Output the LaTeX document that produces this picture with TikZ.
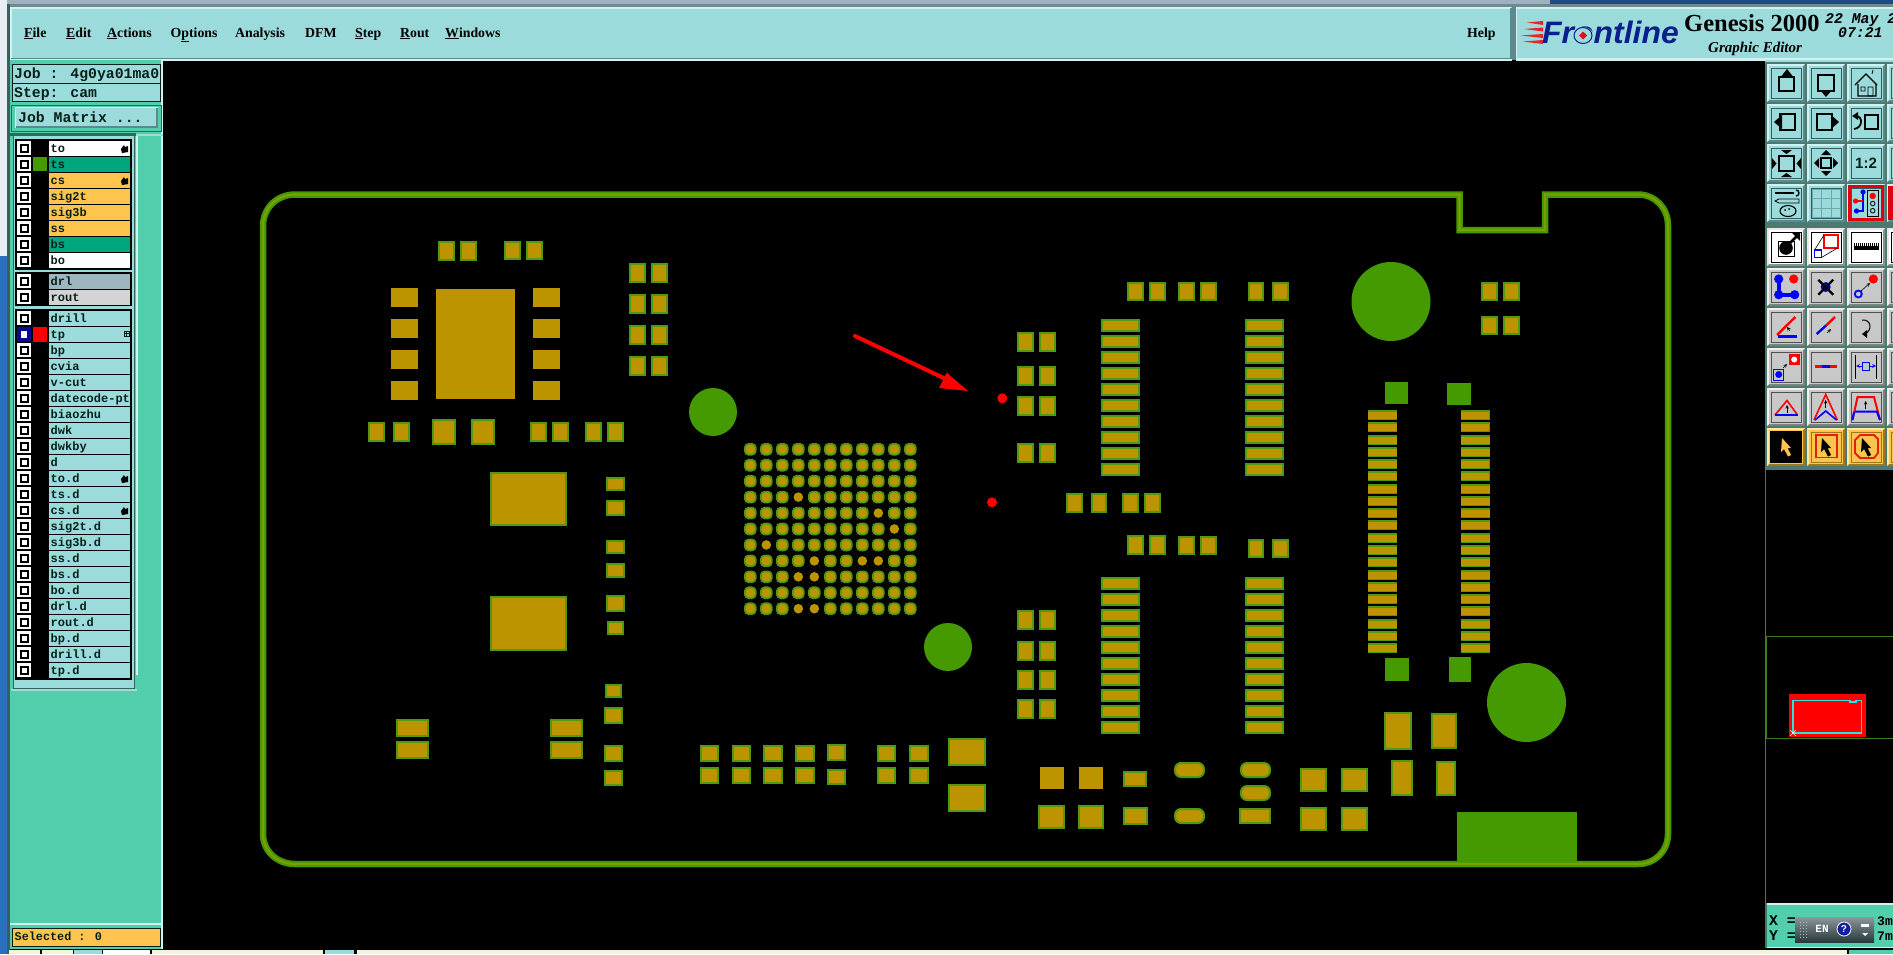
\documentclass[tikz,border=0pt]{standalone}
\usepackage{fontspec}
\setmainfont{Liberation Serif}
\newfontfamily\monof{Liberation Mono}
\newfontfamily\sansf{Liberation Sans}
\definecolor{gold}{HTML}{BC9400}
\definecolor{padgreen}{HTML}{4F9A10}
\definecolor{leaf}{HTML}{449A00}
\definecolor{olive}{HTML}{7F9F00}
\definecolor{aqua}{HTML}{9CDBDB}
\definecolor{aqlight}{HTML}{D2F2F2}
\definecolor{aqdark}{HTML}{5A8A8A}
\definecolor{sea}{HTML}{52CEAC}
\definecolor{seadark}{HTML}{2F6A58}
\definecolor{jade}{HTML}{00A67E}
\definecolor{amber}{HTML}{FFC44E}
\definecolor{slate}{HTML}{9DB6C0}
\definecolor{silver}{HTML}{D4D4D4}
\definecolor{btngrey}{HTML}{C8C8C8}
\definecolor{logoblue}{HTML}{0A1E8C}
\definecolor{ink}{HTML}{062018}
\definecolor{winA}{HTML}{9FB0C0}
\definecolor{winB}{HTML}{1F4A88}
\definecolor{winC}{HTML}{6E8C8E}
\definecolor{winD}{HTML}{E8EEF4}
\definecolor{winE}{HTML}{2A6EC0}
\definecolor{winF}{HTML}{3E5E5E}
\definecolor{streak}{HTML}{E8242A}
\definecolor{logored}{HTML}{E01020}
\definecolor{cream}{HTML}{F4F4DC}
\definecolor{tbbg}{HTML}{4A7A70}
\definecolor{tbframe}{HTML}{2F6060}
\definecolor{grL}{HTML}{F0F0F0}
\definecolor{grD}{HTML}{808080}
\definecolor{grF}{HTML}{505050}
\definecolor{whL}{HTML}{E8E8E8}
\definecolor{whD}{HTML}{909090}
\definecolor{orL}{HTML}{FFE8A0}
\definecolor{orD}{HTML}{A07818}
\definecolor{redb}{HTML}{E00010}
\definecolor{gridc}{HTML}{6FA8A8}
\definecolor{redc}{HTML}{E02010}
\definecolor{ovb}{HTML}{3E7A60}
\definecolor{ovg}{HTML}{3C7A18}
\definecolor{cy}{HTML}{30E0E0}
\definecolor{wdA}{HTML}{8A989C}
\definecolor{wdB}{HTML}{2A383C}
\definecolor{wdD}{HTML}{B0BCC0}
\definecolor{qb}{HTML}{1020A0}
\definecolor{tpb}{HTML}{0A0A90}
\definecolor{tipr}{HTML}{E05010}
\tikzset{
  x=1pt,y=-1pt,
  padst/.style={draw=padgreen,line width=2pt,fill=gold},
  barest/.style={fill=gold},
  solidst/.style={fill=leaf},
  txt/.style={inner sep=0pt,anchor=base west,text=ink},
  lyrtxt/.style={txt,font=\monof\bfseries\fontsize{12}{14}\selectfont},
  sidetxt/.style={txt,font=\monof\bfseries\fontsize{14.8}{17}\selectfont},
  menutxt/.style={txt,text=black,font=\bfseries\fontsize{13.8}{16}\selectfont},
  icon/.style={line width=1.8pt,draw=black},
  thin icon/.style={line width=0.8pt,draw=black},
}
\newcommand\ppad[4]{\path[padst] (#1+1,#2+1) rectangle (#3-1,#4-1);}
\newcommand\pbare[4]{\path[barest] (#1,#2) rectangle (#3,#4);}
\newcommand\psolid[4]{\path[solidst] (#1,#2) rectangle (#3,#4);}
\newcommand\povl[4]{\path[padst,rounded corners=6pt] (#1+1,#2+1) rectangle (#3-1,#4-1);}
\newcommand\pbar[2]{\fill[padgreen] (#1,#2) rectangle (#1+29,#2+10);\fill[gold] (#1,#2+2) rectangle (#1+29,#2+9);}
\newcommand\uln[1]{\underline{#1}}
% button: x y face light dark frame
\newcommand\btn[6]{%
  \fill[#5] (#1,#2) rectangle (#1+38,#2+38);
  \fill[#4] (#1,#2) -- (#1+38,#2) -- (#1+36,#2+2) -- (#1+2,#2+2) -- (#1+2,#2+36) -- (#1,#2+38) -- cycle;
  \fill[#3] (#1+2,#2+2) rectangle (#1+36,#2+36);
  \draw[#6,line width=0.8pt] (#1+4,#2+4) rectangle (#1+34,#2+34);}
\newcommand\curs[1]{\fill[#1] (15,10) -- (24,20) -- (20.5,20) -- (24,27) -- (21,28.5) -- (17,21) -- (14,24) -- cycle;}
% checkbox
\newcommand\chk[1]{%
  \fill[white] (17,#1) rectangle (31,#1+14);
  \fill[black] (19.5,#1+2.5) rectangle (28.5,#1+11.5);
  \fill[white] (21.5,#1+4.5) rectangle (26.5,#1+9.5);}
\newcommand\hand[1]{\fill[black] (121,#1+8) -- (124,#1+4) -- (125,#1+6) -- (128,#1+5) -- (128,#1+11) -- (122,#1+12) -- cycle;}
\begin{document}
\begin{tikzpicture}
\useasboundingbox (0,0) rectangle (1893,954);
\fill[black] (0,0) rectangle (1893,954);
%% window edges
\fill[winA] (0,0) rectangle (1550,4);
\fill[winB] (1550,0) rectangle (1893,4);
\fill[winC] (0,4) rectangle (1893,7);
\fill[winD] (0,0) rectangle (7,256);
\fill[winE] (0,256) rectangle (7,954);
\fill[winF] (7,4) rectangle (10,954);
%% menu bar
\fill[aqua] (10,7) rectangle (1512,59);
\draw[aqlight,line width=1.5pt] (11,59) -- (11,8) -- (1511,8);
\draw[aqdark,line width=2pt] (11,58.5) -- (1511,58.5) -- (1511,8);
\fill[aqlight] (10,59) rectangle (1512,60.5);
\fill[aqua] (1516,7) rectangle (1893,60);
\draw[aqlight,line width=1.5pt] (1516.5,60) -- (1516.5,8) -- (1893,8);
\fill[aqlight] (1516,58) rectangle (1893,60.5);
\fill[aqdark] (1512,7) rectangle (1516,60);
\node[menutxt] (mfile) at (24,37) {\uln{F}ile};
\node[menutxt] (medit) at (66,37) {\uln{E}dit};
\node[menutxt] (mact) at (107,37) {\uln{A}ctions};
\node[menutxt] (mopt) at (170.5,37) {O\uln{p}tions};
\node[menutxt] (mana) at (235,37) {Analysis};
\node[menutxt] (mdfm) at (305,37) {DFM};
\node[menutxt] (mstep) at (355,37) {\uln{S}tep};
\node[menutxt] (mrout) at (400,37) {\uln{R}out};
\node[menutxt] (mwin) at (445,37) {\uln{W}indows};
\node[menutxt] (mhelp) at (1467,37) {Help};
%% logo
\foreach \yy/\xs in {22/1527,28.5/1524,35/1521,41/1523}{
  \fill[streak] (\xs,\yy+0.5) -- (1543,\yy-1) -- (1543,\yy+3) -- cycle;}
\node[txt,text=logoblue,font=\sansf\bfseries\itshape\fontsize{31}{33}\selectfont] (front) at (1542,43.5) {\scalebox{1.03}[1]{Frontline}};
\fill[aqua] (1583,35.5) ellipse [x radius=10.5,y radius=8.5];
\draw[logoblue,line width=1pt] (1583,35.5) ellipse [x radius=9,y radius=8];
\fill[logored] (1583,31.5) -- (1587,35.5) -- (1583,39.5) -- (1579,35.5) -- cycle;
\node[txt,text=black,font=\bfseries\fontsize{24.5}{26}\selectfont] (gen) at (1684,31) {Genesis 2000};
\node[txt,text=black,font=\bfseries\itshape\fontsize{15}{17}\selectfont] (ged) at (1708,52) {Graphic Editor};
\node[txt,text=black,font=\monof\bfseries\itshape\fontsize{14.8}{16}\selectfont] (dt1) at (1825,23) {22 May 2};
\node[txt,text=black,font=\monof\bfseries\itshape\fontsize{14.8}{16}\selectfont] (dt2) at (1838,37) {07:21 :};
%% left panel
\fill[sea] (10,60) rectangle (163,949);
\fill[aqlight] (161,60) rectangle (163,949);
\fill[aqua] (12,64) rectangle (160,83);
\draw[ink,line width=1pt] (12,64.5) rectangle (160.5,83);
\fill[aqua] (12,84) rectangle (160,101);
\draw[ink,line width=1pt] (12,83.5) rectangle (160.5,101.5);
\node[sidetxt] (job) at (14,78) {Job : 4g0ya01ma0};
\node[sidetxt] (stp) at (14,97) {Step: cam};
\draw[seadark,line width=1pt] (11.5,105) rectangle (161,131);
\fill[aqlight] (15,107) rectangle (157.5,127.5);
\fill[aqdark] (16,108) rectangle (157.5,127.5);
\fill[aqua] (16,108) rectangle (156,126);
\node[sidetxt] (jm) at (18,122) {Job Matrix ...};
\fill[seadark] (10,133) rectangle (136,136);
\fill[aqua] (136,134) rectangle (163,136);
\fill[aqlight] (136,136) rectangle (137.5,675);
\fill[seadark] (13,135) rectangle (135,689);
\fill[aqua] (14,136) rectangle (134,688);
\fill[black] (15,138.5) rectangle (132,269.5);
\fill[aqua] (15,269.5) rectangle (132,272);
\fill[black] (15,272) rectangle (132,306);
\fill[aqua] (15,306) rectangle (132,309);
\fill[black] (15,309) rectangle (132,680);
\fill[aqua] (11,689) rectangle (137,691);
% first groups
\foreach \lbl/\yy/\col in {to/141/white,ts/157/jade,cs/173/amber,sig2t/189/amber,sig3b/205/amber,ss/221/amber,bs/237/jade,bo/253/white,drl/274/slate,rout/290/silver}{
  \fill[\col] (49,\yy) rectangle (130,\yy+14.5);
  \chk{\yy}
  \node[lyrtxt] (lyr\yy) at (50.5,\yy+11) {\lbl};
}
\fill[leaf] (33,157) rectangle (47,171);
\hand{141}\hand{173}
% third group
\foreach \lbl [count=\n from 0] in {drill,tp,bp,cvia,v-cut,datecode-pt,biaozhu,dwk,dwkby,d,to.d,ts.d,cs.d,sig2t.d,sig3b.d,ss.d,bs.d,bo.d,drl.d,rout.d,bp.d,drill.d,tp.d}{
  \fill[aqua] (49,311+16*\n) rectangle (130,325.5+16*\n);
  \chk{311+16*\n}
  \node[lyrtxt] (lyrb\n) at (50.5,322+16*\n) {\lbl};
}
\fill[tpb] (17,327) rectangle (31,342);
\fill[white] (21,331) rectangle (27,338);
\fill[red] (33,327) rectangle (47,342);
\draw[ink,line width=0.8pt] (124.5,331.5) rectangle (129,336);
\draw[ink,line width=0.6pt] (124.5,333.7) -- (129,333.7) (126.7,331.5) -- (126.7,336);
\hand{471}\hand{503}
% selected
\fill[aqlight] (10,922.5) rectangle (163,924.5);
\fill[amber] (12,928) rectangle (160,946);
\draw[ink,line width=0.8pt] (12,928) rectangle (160.5,946);
\node[txt,font=\monof\bfseries\fontsize{11.8}{14}\selectfont] (sel) at (14.5,940) {Selected : 0};
%% bottom strip
\foreach \a/\b/\c in {9/40/cream,42/73/cream,74/102/aqua,103/150/white,152/323/cream,325/354/aqua,357/1847/cream,1849/1893/sea}{
  \fill[\c] (\a,950) rectangle (\b,954);}
%% board outline
\foreach \w/\c in {6.5/leaf,2.2/olive}{
\draw[\c,line width=\w pt] (295,194.5) -- (1459.5,194.5) -- (1459.5,230) -- (1545,230) -- (1545,194.5) -- (1638,194.5)
  .. controls (1655,194.5) and (1668,208) .. (1668,225) -- (1668,834)
  .. controls (1668,851) and (1655,864) .. (1638,864) -- (295,864)
  .. controls (277,864) and (263,851) .. (263,834) -- (263,226)
  .. controls (263,208) and (277,194.5) .. (295,194.5) -- cycle;}
%% top left IC
\ppad{438}{241}{455}{261}\ppad{460}{241}{477}{261}\ppad{504}{241}{521}{260}\ppad{526}{241}{543}{260}
\pbare{436}{289}{515}{399}
\foreach \yy in {288,319,350,381}{\pbare{391}{\yy}{418}{\yy+19}\pbare{533}{\yy}{560}{\yy+19}}
\foreach \xx in {629,651}{\foreach \yy in {263,294,325,356}{\ppad{\xx}{\yy}{\xx+17}{\yy+20}}}
\fill[leaf] (713,412) circle (24);
\ppad{368}{422}{385}{442}\ppad{393}{422}{410}{442}\ppad{432}{419}{456}{445}\ppad{471}{419}{495}{445}
\ppad{530}{422}{547}{442}\ppad{552}{422}{569}{442}\ppad{585}{422}{602}{442}\ppad{607}{422}{624}{442}
%% big pads and column
\ppad{490}{472}{567}{526}\ppad{490}{596}{567}{651}
\ppad{606}{477}{625}{491}\ppad{606}{500}{625}{516}\ppad{606}{540}{625}{554}\ppad{606}{563}{625}{578}
\ppad{606}{595}{625}{612}\ppad{607}{621}{624}{635}
\ppad{605}{684}{622}{698}\ppad{604}{707}{623}{724}\ppad{604}{745}{623}{762}\ppad{604}{770}{623}{786}
\ppad{396}{719}{429}{737}\ppad{396}{741}{429}{759}\ppad{550}{719}{583}{737}\ppad{550}{741}{583}{759}
\ppad{700}{745}{719}{762}\ppad{732}{745}{751}{762}\ppad{763}{745}{783}{762}\ppad{795}{745}{815}{762}\ppad{827}{744}{846}{761}
\ppad{700}{767}{719}{784}\ppad{732}{767}{751}{784}\ppad{763}{767}{783}{784}\ppad{795}{767}{815}{784}\ppad{827}{769}{846}{785}
\ppad{877}{745}{896}{762}\ppad{909}{745}{929}{762}\ppad{877}{767}{896}{784}\ppad{909}{767}{929}{784}
\ppad{948}{738}{986}{766}\ppad{948}{784}{986}{812}
\fill[leaf] (948,647) circle (24);
%% BGA
\foreach \i in {0,...,10}{\foreach \j in {0,...,10}{
  \fill[padgreen,rounded corners=4.5pt] (744+16*\i,443+15.94*\j) rectangle (756.6+16*\i,455.6+15.94*\j);
  \fill[gold,rounded corners=3.5pt] (745.8+16*\i,444.8+15.94*\j) rectangle (754.8+16*\i,453.8+15.94*\j);}}
\foreach \i/\j in {1/6,3/3,7/7,8/7,3/8,4/8,3/10,4/10,9/5,8/4,4/7}{
  \fill[black] (750.3+16*\i,449.3+15.94*\j) circle (7);
  \fill[gold] (750.3+16*\i,449.3+15.94*\j) circle (4.8);}
%% centre parts
\foreach \yy in {332,366,396,443}{\ppad{1017}{\yy}{1034}{\yy+20}\ppad{1039}{\yy}{1056}{\yy+20}}
\foreach \yy in {610,641,670,699}{\ppad{1017}{\yy}{1034}{\yy+20}\ppad{1039}{\yy}{1056}{\yy+20}}
\fill[red] (1002.3,398.3) circle (5);
\fill[red] (992,502.3) circle (5);
\ppad{1127}{282}{1144}{301}\ppad{1149}{282}{1166}{301}\ppad{1178}{282}{1195}{301}\ppad{1200}{282}{1217}{301}\ppad{1248}{282}{1264}{301}\ppad{1272}{282}{1289}{301}
\foreach \n in {0,...,9}{
  \ppad{1101}{319+16*\n}{1140}{332+16*\n}\ppad{1245}{319+16*\n}{1284}{332+16*\n}
  \ppad{1101}{577+16*\n}{1140}{590+16*\n}\ppad{1245}{577+16*\n}{1284}{590+16*\n}}
\ppad{1066}{493}{1083}{513}\ppad{1091}{493}{1107}{513}\ppad{1122}{493}{1139}{513}\ppad{1144}{493}{1161}{513}
\ppad{1127}{535}{1144}{555}\ppad{1149}{535}{1166}{555}\ppad{1178}{536}{1195}{555}\ppad{1200}{536}{1217}{555}\ppad{1248}{539}{1264}{558}\ppad{1272}{539}{1289}{558}
%% right parts
\fill[leaf] (1391,301.5) circle (39.5);
\fill[leaf] (1526.5,702.5) circle (39.5);
\ppad{1481}{282}{1498}{301}\ppad{1503}{282}{1520}{301}\ppad{1481}{316}{1498}{335}\ppad{1503}{316}{1520}{335}
\psolid{1385}{382}{1408}{404}\psolid{1447}{383}{1471}{405}\psolid{1385}{658}{1409}{681}\psolid{1449}{657}{1471}{682}
\foreach \n in {0,...,19}{\pbar{1368}{410+12.27*\n}\pbar{1461}{410+12.27*\n}}
\foreach \n in {0,1,4,5}{\fill[tipr] (1488.8,412+12.27*\n) rectangle (1490,418.5+12.27*\n);}
\ppad{1384}{712}{1412}{750}\ppad{1431}{713}{1457}{749}\ppad{1391}{760}{1413}{796}\ppad{1436}{761}{1456}{796}
\psolid{1457}{812}{1577}{862}
\pbare{1040}{767}{1064}{789}\pbare{1079}{767}{1103}{789}\ppad{1123}{771}{1147}{787}
\ppad{1038}{805}{1065}{829}\ppad{1078}{805}{1104}{829}\ppad{1123}{807}{1148}{825}
\povl{1174}{762}{1205}{778}\povl{1174}{808}{1205}{824}\povl{1240}{762}{1271}{778}\povl{1240}{785}{1271}{801}
\ppad{1239}{808}{1271}{824}
\ppad{1300}{768}{1327}{792}\ppad{1341}{768}{1368}{792}\ppad{1300}{807}{1327}{831}\ppad{1341}{807}{1368}{831}
%% red arrow
\coordinate (arrowstart) at (855,336);
\coordinate (arrowtip) at (968,391);
\draw[red,line width=4pt,line cap=round] (arrowstart) -- (950,381);
\fill[red,rounded corners=0.5pt] (arrowtip) -- (946.7,372.7) -- (939,388) -- cycle;
%% right toolbar
\fill[tbbg] (1765,60) rectangle (1893,470);
\fill[aqua] (1765,60) rectangle (1893,62);
\foreach \yy in {64,104,144,184}{\foreach \xx in {1767,1807,1847,1887}{\btn{\xx}{\yy}{aqua}{aqlight}{aqdark}{tbframe}}}
\foreach \yy in {268,308,348,388}{\foreach \xx in {1767,1807,1847,1887}{\btn{\xx}{\yy}{btngrey}{grL}{grD}{grF}}}
\foreach \xx in {1767,1807,1847,1887}{\btn{\xx}{228}{white}{whL}{whD}{black}}
\foreach \xx in {1767,1807,1847,1887}{\btn{\xx}{428}{amber}{orL}{orD}{orD}}
\fill[redb] (1888,186) rectangle (1893,220);
\begin{scope}[shift={(1767,64)}]\draw[icon] (12,13) rectangle (27,27);\fill (20,5) -- (25.5,12) -- (14.5,12) -- cycle;\end{scope}
\begin{scope}[shift={(1807,64)}]\draw[icon] (11,11) rectangle (27,27);\fill (19,33) -- (13,26) -- (25,26) -- cycle;\end{scope}
\begin{scope}[shift={(1847,64)}]\draw[thin icon,line width=1.2pt] (8,21) -- (19,10) -- (30,21) (11,20) -- (11,32) -- (29,32) -- (29,20);\draw[thin icon] (14,23) rectangle (18,27) (21,23) rectangle (26,32) (25,10) -- (26,6);\end{scope}
\begin{scope}[shift={(1767,104)}]\draw[icon] (13,10) rectangle (28,26);\fill (7,18) -- (15,11) -- (15,25) -- cycle;\end{scope}
\begin{scope}[shift={(1807,104)}]\draw[icon] (10,10) rectangle (25,26);\fill (32,18) -- (24,11) -- (24,25) -- cycle;\end{scope}
\begin{scope}[shift={(1847,104)}]\draw[icon] (18,11) rectangle (31,25);\draw[icon] (9,12) .. controls (16,12) and (16,24) .. (7,25);\fill (5,12) -- (11,8) -- (11,16) -- cycle;\end{scope}
\begin{scope}[shift={(1767,144)}]\draw[icon,line width=1.5pt] (12,12) rectangle (27,27);\fill (14,6) -- (25,6) -- (19.5,10) -- cycle (14,33) -- (25,33) -- (19.5,29) -- cycle (5,14) -- (5,25) -- (9.5,19.5) -- cycle (34,14) -- (34,25) -- (29.5,19.5) -- cycle;\end{scope}
\begin{scope}[shift={(1807,144)}]\draw[icon] (14,14) rectangle (24,24);\fill (19,6) -- (24,11) -- (14,11) -- cycle (19,32) -- (24,27) -- (14,27) -- cycle (7,19) -- (12,14) -- (12,24) -- cycle (31,19) -- (26,14) -- (26,24) -- cycle;\end{scope}
\node[inner sep=0pt,text=ink,font=\sansf\bfseries\fontsize{15}{17}\selectfont] (ratio) at (1866,163) {1:2};
\begin{scope}[shift={(1767,184)}]\draw[icon,line width=2pt] (8,9) -- (27,9);\draw[thin icon,line width=1.3pt] (29,6) arc [start angle=-90,end angle=90,radius=3];\draw[thin icon] (8,17) -- (12,15) -- (32,15) -- (32,19) -- (12,19) -- cycle;\draw[thin icon,line width=1.1pt] (21,27) ellipse [x radius=8,y radius=5.5];\fill (18,26) circle (1) (22,25) circle (1);\end{scope}
\begin{scope}[shift={(1807,184)}]\draw[gridc,line width=0.9pt] (5,5) rectangle (33,33) (5,14) -- (33,14) (5,24) -- (33,24) (14,5) -- (14,33) (24,5) -- (24,33);\end{scope}
\begin{scope}[shift={(1847,184)}]\draw[redb,line width=2.8pt] (2.5,2.5) rectangle (35.5,35.5);\draw[blue,line width=1.3pt] (16,8) -- (16,27) -- (9,27);\fill[blue] (16,8) circle (2.6) (9.5,27) circle (2.6);\draw[red,line width=1.3pt] (9,17) -- (16,17);\fill[red] (8.5,17) circle (2.6);\draw[thin icon] (20.5,6) rectangle (31,32);\fill[red] (25.7,12) circle (3.2);\draw[thin icon] (25.7,19.5) circle (2.3) (25.7,26.7) circle (2.3);\end{scope}
\begin{scope}[shift={(1767,228)}]\draw[thin icon] (11,13) rectangle (27,28);\fill (19,20) circle (6.8);\draw[icon,line width=2.6pt] (20,18) -- (30,8);\fill (33,5) -- (33,13) -- (25,5) -- cycle;\end{scope}
\begin{scope}[shift={(1807,228)}]\draw[red,line width=2pt] (17,7) rectangle (30.5,20);\draw[blue,line width=1.5pt] (7.5,22) rectangle (14.5,29.5);\draw[thin icon,line width=0.6pt] (7.5,22) -- (17,7) (14.5,29.5) -- (30.5,20);\end{scope}
\begin{scope}[shift={(1847,228)}]\fill (6.5,15) rectangle (32,22);\foreach \t in {8,10,...,30}{\draw[white,line width=0.6pt] (\t,15) -- (\t,18);}\end{scope}
\begin{scope}[shift={(1767,268)}]\draw[blue,line width=3.6pt] (11.7,11) -- (11.7,26.7) -- (27.7,26.7);\fill[blue] (11.7,11) circle (4.6) (11.7,26.7) circle (4.6) (27.7,26.7) circle (4.6);\fill[red] (26.7,11) circle (4.6);\end{scope}
\begin{scope}[shift={(1807,268)}]\fill[blue!70!black] (18.7,19) circle (5);\draw[icon,line width=2.3pt] (11.3,11.7) -- (26.3,26.7) (26.3,11.7) -- (11.3,26.7);\end{scope}
\begin{scope}[shift={(1847,268)}]\fill[red] (26.3,11) circle (4.6);\draw[blue,line width=1.8pt] (11.3,26) circle (3.5);\draw[thin icon,line width=0.6pt,-stealth] (14,23) -- (23,15);\end{scope}
\begin{scope}[shift={(1767,308)}]\draw[red,line width=2.4pt] (10,27) -- (28.3,9);\draw[blue,line width=3pt] (11,28.5) -- (30,28.5);\draw[thin icon,line width=0.6pt,-stealth] (23,23) -- (20,19);\end{scope}
\begin{scope}[shift={(1807,308)}]\draw[blue,line width=2.4pt] (9.7,26) -- (19,17.5);\draw[red,line width=2.4pt] (19,17.5) -- (28,9);\draw[thin icon,line width=0.6pt,-stealth] (20,25) -- (24,21);\end{scope}
\begin{scope}[shift={(1847,308)}]\draw[thin icon,line width=1pt] (15,12) .. controls (24,11) and (26,22) .. (18,26);\fill (15,26) -- (20,22) -- (20,30) -- cycle;\end{scope}
\begin{scope}[shift={(1767,348)}]\fill[red] (21.7,6) rectangle (32.7,17);\fill[white] (27.2,11.5) circle (3);\draw[blue,line width=1pt] (6.7,21) rectangle (16.7,32);\fill[blue] (11.7,26.5) circle (3.5);\draw[thin icon,line width=0.6pt,-stealth] (16,20) -- (20,16);\end{scope}
\begin{scope}[shift={(1807,348)}]\draw[red,line width=2.6pt] (8,18.3) -- (30,18.3);\draw[blue,line width=2.6pt] (15,18.3) -- (23,18.3);\end{scope}
\begin{scope}[shift={(1847,348)}]\draw[thin icon,line width=0.7pt] (8.5,7) -- (8.5,31) (29.5,7) -- (29.5,31);\draw[blue,line width=0.7pt,<->,>=stealth] (9,18) -- (29,18);\draw[blue,fill=btngrey,line width=0.8pt] (15.5,14) rectangle (22,22);\end{scope}
\begin{scope}[shift={(1767,388)}]\draw[red,line width=1.6pt] (8,27) -- (20,12.5) -- (30.5,27);\draw[blue,line width=2.6pt] (8,27) -- (30.5,27);\draw[thin icon,line width=0.6pt,-stealth] (20,25) -- (20,17);\end{scope}
\begin{scope}[shift={(1807,388)}]\draw[red,line width=1.6pt] (7,32) -- (18.7,6.5) -- (30.3,32);\draw[blue,line width=1.6pt] (8,32) -- (18.7,23) -- (29.5,32);\draw[thin icon,line width=0.6pt,-stealth] (18.7,20) -- (18.7,12);\end{scope}
\begin{scope}[shift={(1847,388)}]\draw[red,line width=2pt] (5.5,32) -- (10.5,9) -- (27,9) -- (33,32);\draw[blue,line width=2pt] (8,23.5) -- (30.5,23.5) (7,24) -- (5.5,32) (30,24) -- (33,32);\draw[thin icon,line width=0.6pt,-stealth] (18.7,21) -- (18.7,13);\end{scope}
\begin{scope}[shift={(1767,428)}]\fill[black] (3,3) rectangle (35,35);\curs{amber}\end{scope}
\begin{scope}[shift={(1807,428)}]\draw[redc,line width=1.8pt] (8.7,7) rectangle (29.7,29.5);\curs{black}\end{scope}
\begin{scope}[shift={(1847,428)}]\draw[redc,line width=1.8pt] (13,7) -- (27,7) -- (31,11) -- (31,25) -- (27,30) -- (13,30) -- (8,25) -- (8,12) -- cycle;\curs{black}\end{scope}
%% overview
\fill[tbbg] (1765,468) rectangle (1893,470);
\draw[ovb,line width=1pt] (1765.5,470) -- (1765.5,903);
\draw[ovg,line width=1pt] (1766,636.5) -- (1893,636.5) (1766,738.5) -- (1893,738.5) (1766.5,636.5) -- (1766.5,738.5);
\fill[red] (1789,694) rectangle (1866,737);
\draw[cy,line width=1.6pt] (1793,700.5) -- (1850,700.5) -- (1850,702) -- (1856,702) -- (1856,700.5) -- (1861.5,700.5) -- (1861.5,733) -- (1793,733) -- cycle;
\draw[white,line width=0.5pt] (1790,730) -- (1796,736) (1796,730) -- (1790,736);
%% readout
\fill[sea] (1765,903) rectangle (1893,948);
\fill[aqlight] (1765,903) rectangle (1893,904.5);
\fill[aqlight] (1765,946.5) rectangle (1893,948);
\fill[ovb] (1765,903) rectangle (1766.5,948);
\node[sidetxt,text=black] (xval) at (1769,925) {X =};
\node[sidetxt,text=black] (yval) at (1769,940) {Y =};
\node[sidetxt,text=black,font=\monof\bfseries\fontsize{13}{15}\selectfont] (xunit) at (1877,925) {3m};
\node[sidetxt,text=black,font=\monof\bfseries\fontsize{13}{15}\selectfont] (yunit) at (1877,940) {7m};
\shade[top color=wdA,bottom color=wdB] (1795,917) rectangle (1874,942);
\foreach \a in {1800,1803,1806}{\foreach \b in {922,925,928,931,934,937}{\fill[wdD] (\a,\b) rectangle (\a+1.2,\b+1.2);}}
\node[inner sep=0pt,text=white,font=\monof\bfseries\fontsize{11}{12}\selectfont] (lang) at (1822,929) {EN};
\fill[qb] (1844,929) circle (7);
\draw[white,line width=0.8pt] (1844,929) circle (7);
\node[inner sep=0pt,text=white,font=\sansf\bfseries\fontsize{10}{11}\selectfont] (qm) at (1844,929) {?};
\fill[white] (1861,924) rectangle (1869,926.5);
\fill[white] (1862,933) -- (1868,933) -- (1865,936) -- cycle;
\end{tikzpicture}
\end{document}
